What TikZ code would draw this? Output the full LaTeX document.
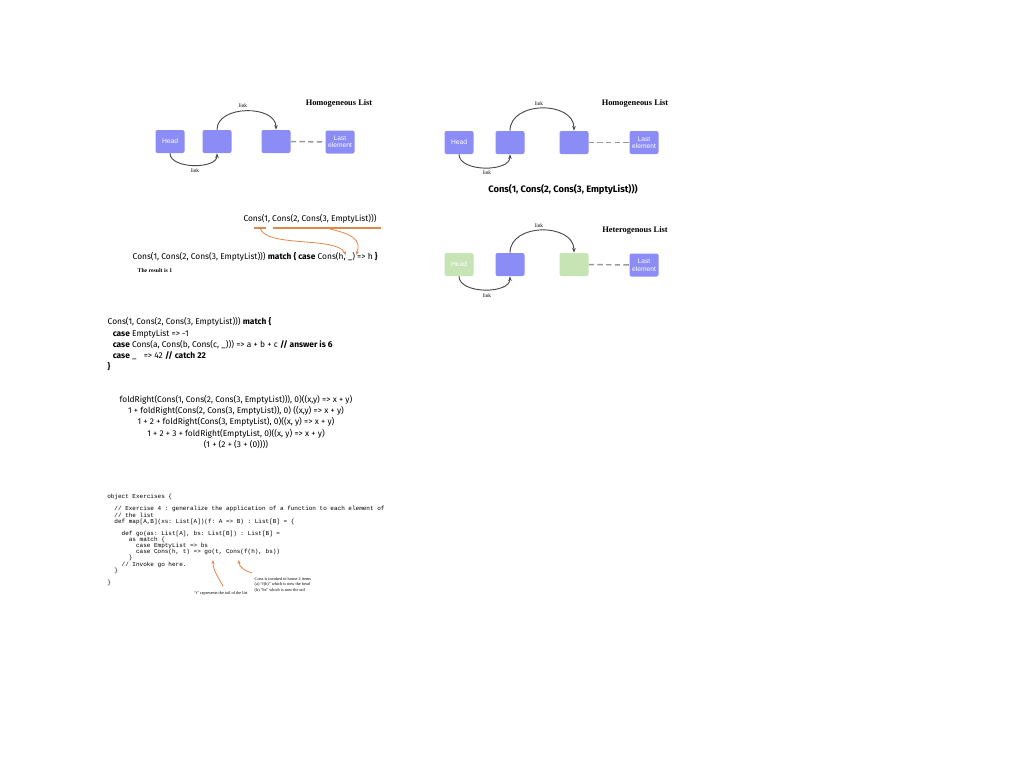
\documentclass[tikz,border=0pt]{standalone}
\usepackage{fontspec}
\setmainfont{Liberation Serif}
\setsansfont{Fira Sans}
\setmonofont{Liberation Mono}
\newfontfamily\cellfont{Liberation Sans}
\usetikzlibrary{arrows.meta,calc}
\definecolor{cellblue}{HTML}{8B8CF6}
\definecolor{cellgreen}{HTML}{C6E4B4}
\definecolor{linkgray}{HTML}{4A4A4A}
\definecolor{dashgray}{HTML}{9A9A9A}
\definecolor{notebrown}{HTML}{E0874A}
\newcommand\ind[1]{\hspace*{#1\dimexpr0.6em\relax}}

\begin{document}
\begin{tikzpicture}[x=0.75pt,y=-0.75pt,cell/.style={rounded corners=1.5pt,fill=cellblue,minimum width=21.75pt,minimum height=17.25pt,inner sep=0pt,align=center,text=white,font=\cellfont\fontsize{5}{5.6}\selectfont},greencell/.style={cell,fill=cellgreen},link/.style={-{Stealth[length=3.5pt]},line width=.7pt,linkgray},tail/.style={dashgray,line width=1.1pt,dash pattern=on 4pt off 2.5pt},linklabel/.style={font=\fontsize{4}{4.5}\selectfont},title/.style={font=\bfseries\fontsize{6.3}{7}\selectfont},hand/.style={font=\sffamily\fontsize{6.3}{8.4}\selectfont},pointer/.style={-{Stealth[length=3pt]},line width=.6pt,notebrown},tiny/.style={font=\fontsize{3.2}{3.9}\selectfont,align=left}]
  \useasboundingbox (0,0) rectangle (1024,768);
  \node[cell] (headA) at (170,141.5) {Head};
  \node[cell] (secondA) at (217,141.5) {};
  \node[cell] (thirdA) at (276,141.5) {};
  \node[cell] (lastA) at (340,142) {Last\\element};
  \draw[tail] (thirdA) -- (lastA);
  \draw[link] (secondA.north) .. controls +(0,-25) and +(0,-25) .. (thirdA.north);
  \draw[link] (headA.south) .. controls +(0,16) and +(0,16) .. (secondA.south);
  \node[linklabel] (topA) at (243,106) {link};
  \node[linklabel] (botA) at (195,171) {link};
  \node[title] (titleA) at (339,104) {Homogeneous List};
  \node[cell] (headB) at (459,142.5) {Head};
  \node[cell] (secondB) at (510,142.5) {};
  \node[cell] (thirdB) at (574,142.5) {};
  \node[cell] (lastB) at (644,142.5) {Last\\element};
  \draw[tail] (thirdB) -- (lastB);
  \draw[link] (secondB.north) .. controls +(0,-30) and +(0,-30) .. (thirdB.north);
  \draw[link] (headB.south) .. controls +(0,18) and +(0,18) .. (secondB.south);
  \node[linklabel] (topB) at (539,104) {link};
  \node[linklabel] (botB) at (487,173) {link};
  \node[title] (titleB) at (635,104) {Homogeneous List};
  \node[hand,font=\sffamily\fontsize{7}{8}\selectfont\bfseries] (consB) at (563,190) {Cons(1, Cons(2, Cons(3, EmptyList)))};
  \node[greencell] (headC) at (459,264.5) {Head};
  \node[cell] (secondC) at (510,264.5) {};
  \node[greencell] (thirdC) at (574,264.5) {};
  \node[cell] (lastC) at (644,265) {Last\\element};
  \draw[tail] (thirdC) -- (lastC);
  \draw[link] (secondC.north) .. controls +(0,-30) and +(0,-30) .. (thirdC.north);
  \draw[link] (headC.south) .. controls +(0,18) and +(0,18) .. (secondC.south);
  \node[linklabel] (topC) at (539,226) {link};
  \node[linklabel] (botC) at (487,296) {link};
  \node[title] (titleC) at (635,231) {Heterogenous List};
  \node[hand] (consTop) at (310,219) {Cons(1, Cons(2, Cons(3, EmptyList)))};
  \draw[notebrown,line width=1.3pt] (254,228) coordinate (headL) -- (266,228) coordinate (headR);
  \draw[notebrown,line width=1.3pt] (273,228) coordinate (tailL) -- (381,228) coordinate (tailR);
  \coordinate (hTip) at (346,255);
  \coordinate (uTip) at (356,255);
  \draw[pointer] ($(headL)!.5!(headR)$) .. controls (266,248) and (336,236) .. (hTip);
  \draw[pointer] (330,229) .. controls (352,234) and (362,240) .. (uTip);
  \node[hand,anchor=west] (matchLine) at (128,257) {Cons(1, Cons(2, Cons(3, EmptyList))) \textbf{match \{ case} Cons(h, \_) => h \textbf{\}}};
  \node[anchor=west,font=\bfseries\fontsize{4.3}{5}\selectfont] (resultNote) at (133,271) {The result is 1};
  \node[hand,anchor=north west,align=left] (matchBlock) at (103,313) {Cons(1, Cons(2, Cons(3, EmptyList))) \textbf{match \{}\\
  \ind{1}\textbf{case} EmptyList => -1\\
  \ind{1}\textbf{case} Cons(a, Cons(b, Cons(c, \_))) => a + b + c \textbf{// answer is 6}\\
  \ind{1}\textbf{case} \_ \ind{1}=> 42 \textbf{// catch 22}\\
  \textbf{\}}};
  \node[hand,align=center] (foldBlock) at (236,422) {foldRight(Cons(1, Cons(2, Cons(3, EmptyList))), 0)((x,y) => x + y)\\
  1 + foldRight(Cons(2, Cons(3, EmptyList)), 0) ((x,y) => x + y)\\
  1 + 2 + foldRight(Cons(3, EmptyList), 0)((x, y) => x + y)\\
  1 + 2 + 3 + foldRight(EmptyList, 0)((x, y) => x + y)\\
  (1 + (2 + (3 + (0))))};
  \node[anchor=north west,align=left,inner sep=0pt,font=\ttfamily\fontsize{4.5}{4.6}\selectfont] (code) at (107,494) {object Exercises \{\\
  \mbox{}\\
  \ind{2}// Exercise 4 : generalize the application of a function to each element of\\
  \ind{2}// the list\\
  \ind{2}def map[A,B](xs: List[A])(f: A => B) : List[B] = \{\\
  \mbox{}\\
  \ind{4}def go(as: List[A], bs: List[B]) : List[B] =\\
  \ind{6}as match \{\\
  \ind{8}case EmptyList => bs\\
  \ind{8}case Cons(h, t) => go(t, Cons(f(h), bs))\\
  \ind{6}\}\\
  \ind{4}// Invoke go here.\\
  \ind{2}\}\\
  \mbox{}\\
  \}};
  \node[tiny,anchor=north west] (consNote) at (250,573) {Cons is invoked to house 2 items\\(a) ``f(h)'' which is now the head\\(b) ``bs'' which is now the tail};
  \node[tiny] (tailNote) at (221,593) {``t'' represents the tail of the list};
  \coordinate (tTip) at (213,560);
  \coordinate (fTip) at (239,560);
  \draw[pointer] ([xshift=1.5]tailNote.north) .. controls (219,578) and (213,571) .. (tTip);
  \draw[pointer] ([xshift=1.5]consNote.north west) .. controls (245,571) and (239,567) .. (fTip);
\end{tikzpicture}
\end{document}
